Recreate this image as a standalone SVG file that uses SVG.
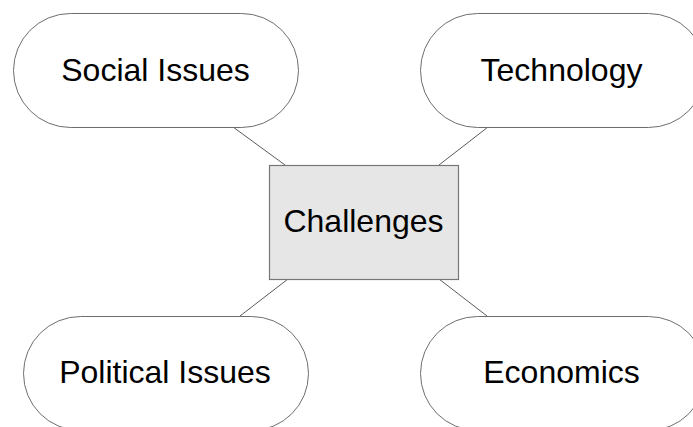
<svg xmlns="http://www.w3.org/2000/svg" width="693" height="427" viewBox="0 0 693 427">
  <style>
    .pill { fill: #ffffff; stroke: #6e6e6e; stroke-width: 1; }
    .hub { fill: #e6e6e6; stroke: #777777; stroke-width: 1.2; }
    .link { stroke: #5a5a5a; stroke-width: 1; fill: none; }
    .label { font-family: "Liberation Sans", Arial, sans-serif; font-size: 32px; fill: #000000; text-anchor: middle; }
  </style>
  <rect width="693" height="427" fill="#ffffff"/>
  <g id="connectors">
    <line class="link" x1="233" y1="127" x2="285" y2="165"/>
    <line class="link" x1="488" y1="127" x2="439" y2="165"/>
    <line class="link" x1="288" y1="279" x2="240" y2="316"/>
    <line class="link" x1="439" y1="279" x2="487" y2="316"/>
  </g>
  <g id="social-issues">
    <rect class="pill" x="13.5" y="13.5" width="285" height="114" rx="57" ry="57"/>
    <text class="label" x="155.5" y="81">Social Issues</text>
  </g>
  <g id="technology">
    <rect class="pill" x="420.5" y="13.5" width="285" height="114" rx="57" ry="57"/>
    <text class="label" x="561.5" y="81">Technology</text>
  </g>
  <g id="challenges">
    <rect class="hub" x="269.5" y="165.5" width="189" height="114"/>
    <text class="label" x="363.5" y="232">Challenges</text>
  </g>
  <g id="political-issues">
    <rect class="pill" x="23.5" y="316.5" width="285" height="114" rx="57" ry="57"/>
    <text class="label" x="165" y="383">Political Issues</text>
  </g>
  <g id="economics">
    <rect class="pill" x="420.5" y="316.5" width="285" height="114" rx="57" ry="57"/>
    <text class="label" x="561.5" y="383">Economics</text>
  </g>
</svg>
